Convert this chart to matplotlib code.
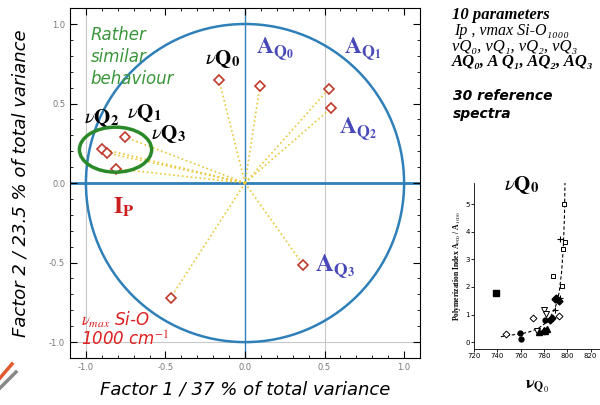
import matplotlib
matplotlib.use('Agg')
import matplotlib.pyplot as plt
import numpy as np
from matplotlib.patches import Ellipse, Circle
from matplotlib.lines import Line2D

plt.rcParams['mathtext.fontset'] = 'stix'

# loadings on the first two factors
params = ['vQ0', 'AQ0', 'AQ1', 'AQ2', 'vQ1', 'vQ2', 'vQ3', 'Ip', 'AQ3', 'vmax']
f1 = [-0.164, 0.094, 0.525, 0.54, -0.757, -0.90, -0.87, -0.81, 0.366, -0.467]
f2 = [0.65, 0.61, 0.59, 0.47, 0.29, 0.215, 0.19, 0.09, -0.515, -0.72]

# inset: polymerization index vs vQ0
sq_open_x = [797, 798.4, 796.7, 787.8, 795.6]
sq_open_y = [4.99, 3.61, 3.38, 2.40, 2.05]
sq_fill_x = [739]
sq_fill_y = [1.79]
plus_x = [793.6, 793.5, 789]
plus_y = [3.72, 1.6, 1.15]
dia_fill_x = [790.7, 792.7, 787, 785.5, 789.5]
dia_fill_y = [1.59, 1.48, 0.86, 0.82, 1.55]
tri_open_x = [780.3, 782, 774]
tri_open_y = [1.18, 1.01, 0.41]
dia_open_x = [770.3, 792.7, 747.3, 780]
dia_open_y = [0.87, 0.94, 0.29, 0.40]
tri_fill_x = [775.5, 782.6, 779.7, 781]
tri_fill_y = [0.36, 0.48, 0.43, 0.40]
circ_fill_x = [759.7, 760.2, 781]
circ_fill_y = [0.34, 0.12, 0.82]
curve_x = [743, 750, 760, 768, 775, 781, 786, 790, 793, 795, 796.5, 797.5, 798]
curve_y = [0.2, 0.25, 0.3, 0.38, 0.5, 0.68, 0.95, 1.3, 1.8, 2.5, 3.4, 4.5, 5.8]

fig = plt.figure(figsize=(6, 4.05), dpi=100)
ax = fig.add_axes([0.1167, 0.116, 0.5833, 0.864])

blue = '#2f7fb8'
for xv in [-1.0, 0.5]:
    ax.axvline(xv, color='#c8c8c8', lw=0.8, zorder=0)
ax.axhline(-1.0, color='#c8c8c8', lw=0.8, zorder=0)
ax.axhline(0, color=blue, lw=2, zorder=1)
ax.axvline(0, color=blue, lw=1, zorder=1)
ax.add_patch(Circle((0, 0), 1.0, fill=False, ec=blue, lw=1.8, zorder=2))

for x, y in zip(f1, f2):
    ax.plot([0, x], [0, y], ls=':', color='#e8c838', lw=1.2, zorder=3)
ax.plot(f1, f2, 'D', mfc='white', mec='#c0392b', mew=1.2, ms=5, ls='none', zorder=4)

ax.add_patch(Ellipse((-0.814, 0.21), 0.454, 0.283, fill=False, ec='#2a8a2a', lw=2.5, zorder=5))

ax.set_xlim(-1.1, 1.1)
ax.set_ylim(-1.1, 1.1)
ax.set_xticks([-1.0, -0.5, 0.0, 0.5, 1.0])
ax.set_yticks([-1.0, -0.5, 0.0, 0.5, 1.0])
ax.set_xticks(np.arange(-1.0, 1.01, 0.1), minor=True)
ax.set_yticks(np.arange(-1.0, 1.01, 0.1), minor=True)
ax.tick_params(which='both', direction='in', top=True, right=True, labelsize=6,
               labelcolor='#777777')
ax.tick_params(which='major', length=5)
ax.tick_params(which='minor', length=2.5)
ax.xaxis.set_major_formatter(matplotlib.ticker.FormatStrFormatter('%.1f'))
ax.yaxis.set_major_formatter(matplotlib.ticker.FormatStrFormatter('%.1f'))

ax.set_xlabel('Factor 1 / 37 % of total variance', fontsize=13, style='italic', labelpad=6)
ax.set_ylabel('Factor 2 / 23.5 % of total variance', fontsize=13, style='italic', labelpad=14)

green = '#3a963a'
ax.text(-0.97, 0.99, 'Rather\nsimilar\nbehaviour', color=green, fontsize=12, style='italic',
        va='top', ha='left', linespacing=1.3)
lab = dict(fontsize=15, color='black', ha='left', va='center')
ax.text(-0.25, 0.78, r'$\nu\mathbf{Q}_\mathbf{0}$', **lab)
ax.text(-1.01, 0.41, r'$\nu\mathbf{Q}_\mathbf{2}$', **lab)
ax.text(-0.74, 0.44, r'$\nu\mathbf{Q}_\mathbf{1}$', **lab)
ax.text(-0.59, 0.31, r'$\nu\mathbf{Q}_\mathbf{3}$', **lab)
ablue = '#4848b8'
alab = dict(fontsize=17, color=ablue, ha='left', va='center')
ax.text(0.07, 0.84, r'$\mathbf{A}_{\mathbf{Q}_\mathbf{0}}$', **alab)
ax.text(0.62, 0.84, r'$\mathbf{A}_{\mathbf{Q}_\mathbf{1}}$', **alab)
ax.text(0.59, 0.34, r'$\mathbf{A}_{\mathbf{Q}_\mathbf{2}}$', **alab)
ax.text(0.44, -0.52, r'$\mathbf{A}_{\mathbf{Q}_\mathbf{3}}$', fontsize=18, color=ablue,
        ha='left', va='center')
ax.text(-0.83, -0.15, r'$\mathbf{I}_\mathbf{P}$', fontsize=17, color='#cc2020', ha='left', va='center')
ax.text(-1.03, -0.86, r'$\nu_{max}$' + ' Si-O', fontsize=12, color='#e02020', style='italic',
        ha='left', va='center')
ax.text(-1.03, -0.99, '1000 cm$^{-1}$', fontsize=12, color='#e02020', style='italic',
        ha='left', va='center')

# right-hand text
serif = ['Liberation Serif', 'DejaVu Serif']
fig.text(452 / 600, 1 - 15 / 405, '10 parameters', fontsize=12, family=serif, weight='bold',
         style='italic', va='center')
fig.text(454 / 600, 1 - 31 / 405, 'Ip , vmax Si-O\u2081\u2080\u2080\u2080', fontsize=11.5,
         family=serif, style='italic', va='center')
fig.text(452 / 600, 1 - 47 / 405, 'vQ\u2080, vQ\u2081, vQ\u2082, vQ\u2083', fontsize=12,
         family=serif, style='italic', va='center')
fig.text(452 / 600, 1 - 62 / 405, 'AQ\u2080, A Q\u2081, AQ\u2082, AQ\u2083', fontsize=12,
         family=serif, style='italic', weight='bold', va='center')
fig.text(453 / 600, 1 - 105 / 405, '30 reference\nspectra', fontsize=10, weight='bold',
         style='italic', va='center', linespacing=1.3)

# small logo bottom left
fig.add_artist(Line2D([0, 12 / 600], [1 - 378 / 405, 1 - 364 / 405], color='#e05a30', lw=2.5))
fig.add_artist(Line2D([0, 16 / 600], [1 - 388 / 405, 1 - 372 / 405], color='#888888', lw=2.5))

# inset
ins = fig.add_axes([0.79, 0.138, 0.21, 0.41])
ins.plot(curve_x, curve_y, ls=(0, (3, 2)), color='black', lw=0.8)
ins.plot(sq_open_x, sq_open_y, 's', mfc='white', mec='black', ms=3.5, mew=0.7, ls='none')
ins.plot(sq_fill_x, sq_fill_y, 's', color='black', ms=4, ls='none')
ins.plot(plus_x, plus_y, '+', color='black', ms=5, mew=0.8, ls='none')
ins.plot(dia_fill_x, dia_fill_y, 'D', color='black', ms=3.5, ls='none')
ins.plot(tri_open_x, tri_open_y, 'v', mfc='white', mec='black', ms=4, mew=0.7, ls='none')
ins.plot(dia_open_x, dia_open_y, 'D', mfc='white', mec='black', ms=3.5, mew=0.7, ls='none')
ins.plot(tri_fill_x, tri_fill_y, '^', color='black', ms=4, ls='none')
ins.plot(circ_fill_x, circ_fill_y, 'o', color='black', ms=3.5, ls='none')
ins.set_xlim(720, 828)
ins.set_ylim(-0.25, 5.76)
ins.set_xticks([720, 740, 760, 780, 800, 820])
ins.set_yticks([0, 1, 2, 3, 4, 5])
ins.tick_params(labelsize=5, length=2, width=0.6, pad=1)
for s in ['top', 'right']:
    ins.spines[s].set_visible(False)
for s in ['left', 'bottom']:
    ins.spines[s].set_linewidth(0.6)
ins.set_xlabel(r'$\mathbf{\nu}_{\mathbf{Q}_0}$', fontsize=12, labelpad=12)
ins.set_ylabel(r'Polymerization Index A$_{900}$ / A$_{1000}$', fontsize=5.5, family=serif,
               weight='bold', labelpad=2)
fig.text(522 / 600, 1 - 185 / 405, r'$\nu\mathbf{Q}_\mathbf{0}$', fontsize=15, ha='center',
         va='center')

fig.savefig('out.png', dpi=100)
